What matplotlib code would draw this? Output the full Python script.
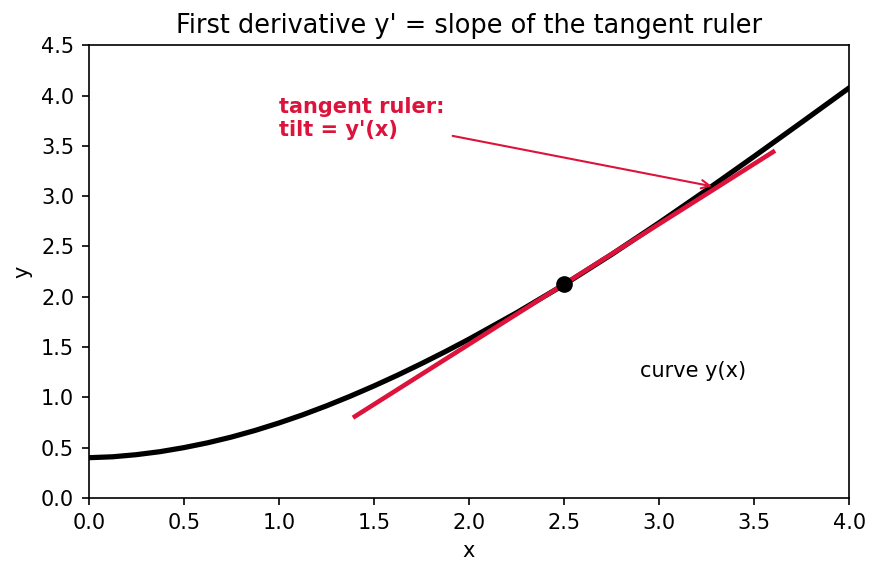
import matplotlib
matplotlib.use('Agg')
import matplotlib.pyplot as plt

# curve y(x)
xs = [0.0, 0.125, 0.25, 0.375, 0.5, 0.625, 0.75, 0.875, 1.0, 1.125, 1.25,
      1.375, 1.5, 1.625, 1.75, 1.875, 2.0,
      2.25, 2.5, 2.75, 3.0, 3.25, 3.5, 3.75, 4.0]
ys = [0.40, 0.409, 0.43, 0.46, 0.50, 0.548, 0.605, 0.671, 0.745, 0.826, 0.915,
      1.011, 1.113, 1.221, 1.335, 1.454, 1.578,
      1.84, 2.12, 2.42, 2.735, 3.061, 3.395, 3.734, 4.076]

# point of tangency and the ruler ends
x0, y0 = 2.5, 2.126
ruler_x = [1.4, 3.6]
ruler_y = [0.81, 3.44]

red = '#dc143c'

fig, ax = plt.subplots(figsize=(5.86, 3.82), dpi=150)
fig.subplots_adjust(left=0.101, right=0.966, top=0.921, bottom=0.131)

ax.plot(xs, ys, color='black', lw=2.5)
ax.plot(ruler_x, ruler_y, color=red, lw=2.2)
ax.plot([x0], [y0], 'o', color='black', ms=7)

ax.annotate("tangent ruler:\ntilt = y'(x)", xy=(3.3, 3.09), xytext=(1.0, 3.6),
            color=red, fontweight='bold', fontsize=10,
            arrowprops=dict(arrowstyle='->', color=red, lw=1))
ax.text(2.9, 1.2, 'curve y(x)', fontsize=10)

ax.set_xlim(0, 4)
ax.set_ylim(0, 4.5)
ax.set_title("First derivative y' = slope of the tangent ruler", fontsize=12.3)
ax.set_xlabel('x')
ax.set_ylabel('y')

fig.savefig('out.png', dpi=150)
